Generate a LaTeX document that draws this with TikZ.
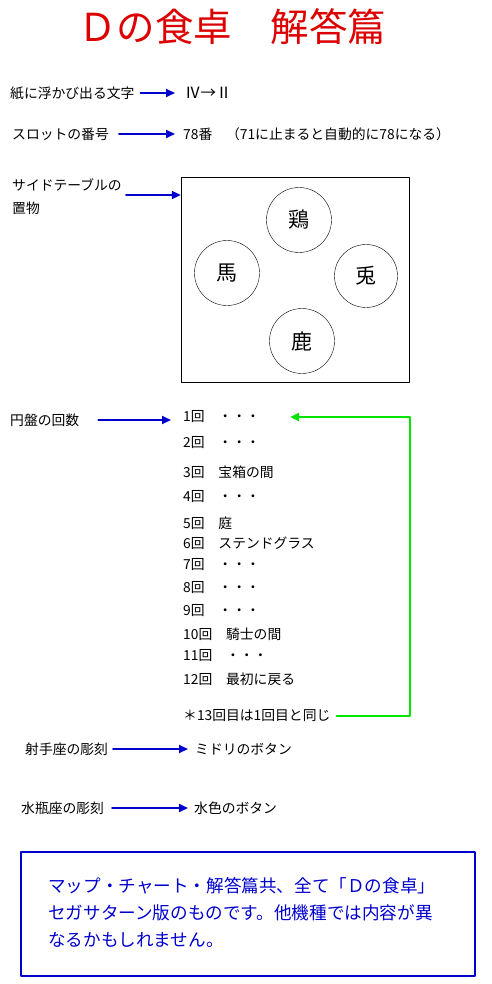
\documentclass[tikz,border=0pt]{standalone}
\usepackage{fontspec}
\setmainfont{Noto Sans CJK JP}
\usetikzlibrary{arrows.meta}
\definecolor{ansblue}{RGB}{0,0,204}
\definecolor{ansgreen}{RGB}{0,228,0}
\definecolor{ansred}{RGB}{220,0,0}
\begin{document}
\begin{tikzpicture}[x=1pt, y=-1pt, line cap=round, line join=round,
    txt/.style={anchor=west, inner sep=0pt, font=\fontsize{13.8}{16}\selectfont},
    barrow/.style={ansblue, line width=2pt, -{Triangle[length=9pt,width=8pt]}},
    garrow/.style={ansgreen, line width=2pt, -{Triangle[length=9pt,width=8pt]}},
    animal/.style={circle, draw, thin, minimum size=65pt, inner sep=0pt, font=\fontsize{21}{21}\selectfont}]
  \useasboundingbox (0,0) rectangle (491,984);
  % title
  \node[ansred, font=\fontsize{38.5}{38.5}\selectfont] (title) at (232,27) {Ｄの食卓　解答篇};
  % paper and slot
  \node[txt] (paper) at (10,93) {紙に浮かび出る文字};
  \node[txt, font=\fontsize{15.5}{16}\selectfont] (paperans) at (185,93) {Ⅳ→Ⅱ};
  \draw[barrow] ([xshift=6pt]paper.east) -- ([xshift=-10pt]paperans.west);
  \node[txt] (slot) at (12,134) {スロットの番号};
  \node[txt] (slotans) at (183,134) {78番　（71に止まると自動的に78になる）};
  \draw[barrow] ([xshift=10pt]slot.east) -- ([xshift=-8pt]slotans.west);
  % side table
  \node[txt, align=left, anchor=north west] (obj) at (12,178) {サイドテーブルの\\[7pt]置物};
  \node[draw, thin, minimum width=228pt, minimum height=205pt, inner sep=0pt] (tbl) at (295,279.5) {};
  \coordinate (objy) at (0,195);
  \draw[barrow] (126,0 |- objy) -- (tbl.west |- objy);
  \node[animal] (chicken) at (299,220) {鶏};
  \node[animal] (horse) at (227,273) {馬};
  \node[animal, minimum size=63pt] (rabbit) at (366,276) {兎};
  \node[animal] (deer) at (302,341) {鹿};
  % disc turns
  \node[txt] (disc) at (10,420) {円盤の回数};
  \foreach \n/\y/\t in {1/417/1回　・・・, 2/443/2回　・・・, 3/472/3回　宝箱の間, 4/497/4回　・・・,
      5/523/5回　庭, 6/543/6回　ステンドグラス, 7/565/7回　・・・, 8/588/8回　・・・,
      9/611/9回　・・・, 10/634/10回　騎士の間, 11/656/11回　・・・, 12/679/12回　最初に戻る,
      13/716/＊13回目は1回目と同じ}
    \node[txt] (l\n) at (183,\y) {\t};
  \draw[barrow] ([xshift=19pt]disc.east) -- ([xshift=-12pt]l1.west |- disc);
  \draw[garrow] ([xshift=6pt]l13.east) -| (410,560) |- ([xshift=30pt]l1.east);
  % statues
  \node[txt] (archer) at (25,749) {射手座の彫刻};
  \node[txt] (archerans) at (195,749) {ミドリのボタン};
  \draw[barrow] ([xshift=5pt]archer.east) -- ([xshift=-7pt]archerans.west);
  \node[txt] (aqua) at (21,808) {水瓶座の彫刻};
  \node[txt] (aquaans) at (194,808) {水色のボタン};
  \draw[barrow] ([xshift=8pt]aqua.east) -- ([xshift=-6pt]aquaans.west);
  % note
  \node[draw=ansblue, line width=2pt, minimum width=454pt, minimum height=124pt, inner sep=0pt] (notebox) at (248,914) {};
  \node[ansblue, anchor=north west, align=left, inner sep=0pt, font=\fontsize{17.6}{27}\selectfont] (note) at (48,877)
    {マップ・チャート・解答篇共、全て「Ｄの食卓」\\セガサターン版のものです。他機種では内容が異\\なるかもしれません。};
\end{tikzpicture}
\end{document}
